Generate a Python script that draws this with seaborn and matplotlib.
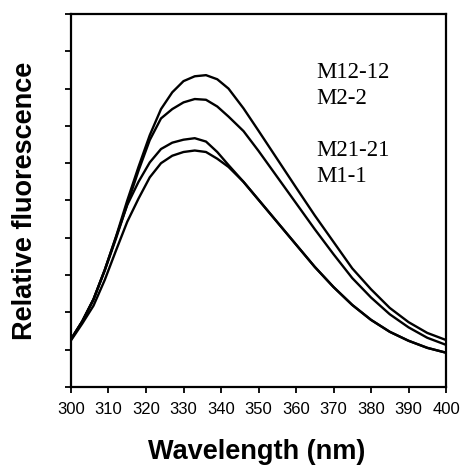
import numpy as np
import pandas as pd
import seaborn as sns
import matplotlib.pyplot as plt

# emission spectra
wavelength = [300, 303, 306, 309, 312, 315, 318, 321, 324, 327, 330, 333, 336, 339,
              342, 346, 350, 355, 360, 365, 370, 375, 380, 385, 390, 395, 400]
m12_12 = [1.28, 1.76, 2.35, 3.14, 4.03, 5.0, 5.9, 6.75, 7.45, 7.9, 8.2, 8.33, 8.36, 8.25,
          8.0, 7.47, 6.87, 6.11, 5.35, 4.6, 3.89, 3.18, 2.62, 2.12, 1.74, 1.45, 1.26]
m2_2 = [1.28, 1.76, 2.35, 3.12, 3.98, 4.9, 5.8, 6.62, 7.2, 7.45, 7.63, 7.72, 7.7, 7.52,
        7.25, 6.86, 6.33, 5.63, 4.93, 4.23, 3.56, 2.92, 2.4, 1.95, 1.6, 1.32, 1.13]
m21_21 = [1.28, 1.76, 2.35, 3.14, 4.02, 4.88, 5.5, 6.02, 6.38, 6.55, 6.63, 6.67, 6.58, 6.3,
          5.95, 5.5, 5.02, 4.42, 3.82, 3.22, 2.68, 2.2, 1.8, 1.48, 1.24, 1.05, 0.92]
m1_1 = [1.25, 1.7, 2.18, 2.87, 3.66, 4.43, 5.05, 5.62, 6.0, 6.2, 6.3, 6.34, 6.3, 6.12,
        5.9, 5.5, 5.02, 4.42, 3.82, 3.22, 2.68, 2.2, 1.8, 1.48, 1.24, 1.05, 0.92]

samples = ['M12-12', 'M2-2', 'M21-21', 'M1-1']
label_y = [8.28, 7.6, 6.19, 5.5]
xticks = list(range(300, 401, 10))

df = pd.concat([
    pd.DataFrame({'wavelength': wavelength, 'fluor': vals, 'sample': name})
    for name, vals in zip(samples, [m12_12, m2_2, m21_21, m1_1])
])

sns.set_style('ticks')
plt.rcParams['font.family'] = ['Liberation Sans', 'DejaVu Sans']
plt.rcParams['text.color'] = 'black'
plt.rcParams['axes.labelcolor'] = 'black'

fig = plt.figure(figsize=(4.61, 4.66), dpi=100)
ax = fig.add_axes([0.154, 0.1695, 0.8135, 0.8005])

sns.lineplot(data=df, x='wavelength', y='fluor', hue='sample',
             palette={s: 'black' for s in samples}, linewidth=1.7,
             legend=False, ax=ax)

for name, y in zip(samples, label_y):
    ax.text(365.5, y, name, fontsize=16.5, family='Liberation Serif',
            color='black', ha='left', va='baseline')

ax.set_xlim(300, 400)
ax.set_ylim(0, 10)
ax.set_xticks(xticks)
ax.set_xticklabels([str(t) for t in xticks], fontsize=12)
ax.set_yticks(range(0, 11))
ax.set_yticklabels([])
ax.tick_params(direction='out', length=4, width=1.3, pad=7,
               colors='black', labelcolor='black')

for sp in ax.spines.values():
    sp.set_visible(True)
    sp.set_linewidth(1.6)
    sp.set_color('black')

ax.set_xlabel('Wavelength (nm)', fontsize=19.5, fontweight='bold', va='center')
ax.set_ylabel('Relative fluorescence', fontsize=19.5, fontweight='bold', va='center')
ax.xaxis.set_label_coords(0.496, -0.174)
ax.yaxis.set_label_coords(-0.123, 0.5)

fig.savefig('out.png', dpi=100)
